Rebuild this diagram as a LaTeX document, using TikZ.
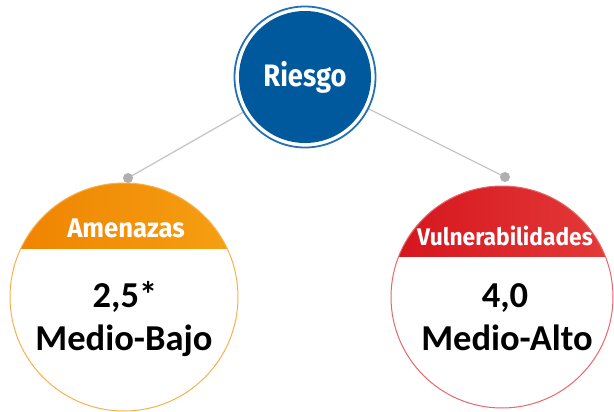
\documentclass[tikz,border=0pt]{standalone}
\usepackage{fontspec}
\usetikzlibrary{backgrounds}
\newfontfamily\hdr[FakeStretch=0.88]{Fira Sans}
\newfontfamily\hdrw[FakeStretch=0.95]{Fira Sans}
\newfontfamily\bodyf{Carlito}
\definecolor{rblue}{HTML}{00599D}
\definecolor{ringblue}{HTML}{2370B2}
\definecolor{orL}{HTML}{EF8200}
\definecolor{orR}{HTML}{F6A114}
\definecolor{orline}{HTML}{F6B24F}
\definecolor{rdL}{HTML}{D5131C}
\definecolor{rdR}{HTML}{E43C3A}
\definecolor{rdline}{HTML}{E8676A}
\definecolor{connc}{HTML}{C6C6C6}
\definecolor{dotc}{HTML}{B0B0B0}
\begin{document}
\begin{tikzpicture}[x=1pt,y=-1pt,
  conn/.style={connc, line width=1.3pt},
  dotnode/.style={circle, fill=dotc, minimum size=10pt, inner sep=0pt},
  hdrtext/.style={text=white, anchor=base, inner sep=0pt},
  valtext/.style={anchor=base, inner sep=0pt, font=\bodyf\bfseries\fontsize{36.5}{36.5}\selectfont},
  bigcirc/.style={circle, inner sep=0pt, outer sep=0pt}]
\useasboundingbox (0,0) rectangle (614,412);
% top
\node[circle, fill=rblue, minimum size=132pt, inner sep=0pt, outer sep=5pt] (top) at (305,77) {};
\draw[ringblue, line width=1.8pt] (top.center) circle (70.5);
\node[hdrtext, font=\hdr\bfseries\fontsize{31}{31}\selectfont] (topT) at (305,87) {Riesgo};
% left
\node[bigcirc, minimum size=228pt] (amen) at (124,297) {};
\begin{scope}
  \clip (amen.center) circle (114);
  \shade[left color=orL, right color=orR] (5,175) rectangle (245,248);
\end{scope}
\draw[orline, line width=1pt] (amen.center) circle (114);
\node[hdrtext, font=\hdrw\bfseries\fontsize{27}{27}\selectfont] (amenT) at (126,237) {Amenazas};
\node[valtext] (amenV1) at (125,307) {2,5*};
\node[valtext] (amenV2) at (124,350) {Medio-Bajo};
% right
\node[bigcirc, minimum size=222pt] (vul) at (502,297) {};
\begin{scope}
  \clip (vul.center) circle (111);
  \shade[left color=rdL, right color=rdR] (385,180) rectangle (620,256);
\end{scope}
\draw[rdline, line width=1pt] (vul.center) circle (111);
\node[hdrtext, font=\hdrw\bfseries\fontsize{24}{24}\selectfont] (vulT) at (505,245) {Vulnerabilidades};
\node[valtext] (vulV1) at (505,307) {4,0};
\node[valtext] (vulV2) at (507,350) {Medio-Alto};
% connectors
\node[dotnode] (dotL) at (128,178) {};
\node[dotnode] (dotR) at (505,177) {};
\begin{scope}[on background layer]
  \draw[conn] (dotL.center) -- (top);
  \draw[conn] (dotR.center) -- (top);
\end{scope}
\end{tikzpicture}
\end{document}
